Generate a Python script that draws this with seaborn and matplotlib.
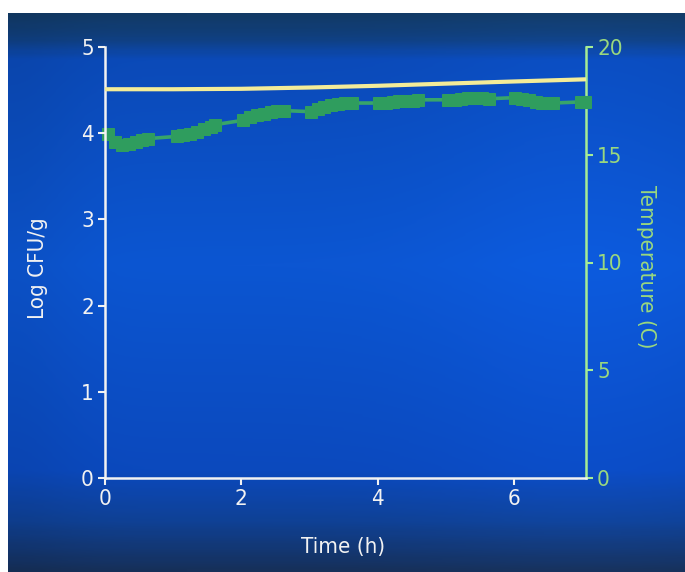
import numpy as np
import pandas as pd
import matplotlib
matplotlib.use("Agg")
import matplotlib.pyplot as plt
from matplotlib import font_manager
from matplotlib.colors import LinearSegmentedColormap
import seaborn as sns

# Log CFU/g over time
cfu_time = [0.0, 1.0, 2.0, 3.0, 4.0, 5.0, 6.0, 7.05]
cfu_log = [4.51, 4.51, 4.515, 4.53, 4.55, 4.575, 4.60, 4.625]

# Temperature logger readings (h, degrees C), recorded in bursts
temp_time = [
    0.05, 0.15, 0.25, 0.35, 0.45, 0.55, 0.63,
    1.05, 1.15, 1.25, 1.35, 1.45, 1.55, 1.62,
    2.03, 2.13, 2.23, 2.33, 2.43, 2.53, 2.62,
    3.02, 3.12, 3.22, 3.32, 3.42, 3.52, 3.63,
    4.02, 4.12, 4.22, 4.32, 4.42, 4.52, 4.60,
    5.03, 5.13, 5.23, 5.33, 5.43, 5.53, 5.63,
    6.02, 6.12, 6.22, 6.32, 6.42, 6.52, 6.58,
    6.98, 7.05,
]
temp_c = [
    15.95, 15.6, 15.45, 15.5, 15.6, 15.7, 15.75,
    15.85, 15.9, 15.95, 16.05, 16.2, 16.3, 16.4,
    16.6, 16.75, 16.85, 16.9, 17.0, 17.05, 17.05,
    17.0, 17.1, 17.2, 17.3, 17.35, 17.4, 17.4,
    17.4, 17.4, 17.45, 17.5, 17.5, 17.5, 17.55,
    17.55, 17.55, 17.6, 17.65, 17.65, 17.65, 17.6,
    17.65, 17.6, 17.55, 17.45, 17.4, 17.4, 17.4,
    17.45, 17.45,
]

x_ticks = [0, 2, 4, 6]
left_ticks = [0, 1, 2, 3, 4, 5]
right_ticks = [0, 5, 10, 15, 20]

sns.set_theme(style="ticks")

# prefer a narrow sans face for the labels
installed = {(f.name, f.stretch) for f in font_manager.fontManager.ttflist}
names = {n for n, _ in installed}
font_stretch = "normal"
if "Liberation Sans Narrow" in names:
    font_family = ["Liberation Sans Narrow", "DejaVu Sans"]
elif ("DejaVu Sans", "condensed") in installed or ("DejaVu Sans", "semi-condensed") in installed:
    font_family = ["DejaVu Sans"]
    font_stretch = "condensed"
elif "Roboto Condensed" in names:
    font_family = ["Roboto Condensed", "DejaVu Sans"]
else:
    font_family = ["Roboto", "DejaVu Sans"]
plt.rcParams["font.family"] = font_family
plt.rcParams["font.stretch"] = font_stretch

W, H = 685, 572
fig = plt.figure(figsize=(W / 100, H / 100), dpi=100, facecolor="white")

# blue studio backdrop: dark bands top and bottom, bright in the middle
bg = fig.add_axes([8 / W, 0, 1 - 8 / W, (H - 13) / H])
bg.set_axis_off()
stops = [
    (0.00, "#123a66"),
    (0.04, "#103f7e"),
    (0.08, "#0b4ab8"),
    (0.45, "#0c56d2"),
    (0.82, "#0b49bd"),
    (0.91, "#0f4196"),
    (1.00, "#16305a"),
]
cmap = LinearSegmentedColormap.from_list("backdrop", stops)
ny, nx = 300, 200
gy = np.linspace(0, 1, ny)[:, None]
gx = np.linspace(0, 1, nx)[None, :]
shade = np.repeat(gy, nx, axis=1)
img = cmap(shade)
# faint horizontal light falloff
glow = 1.0 + 0.06 * np.exp(-((gx - 0.85) ** 2) / 0.05) - 0.06 * np.exp(-(gx ** 2) / 0.01)
img[..., :3] = np.clip(img[..., :3] * glow[..., None], 0, 1)
bg.imshow(img, aspect="auto", extent=[0, 1, 1, 0], interpolation="bilinear")
bg.set_xlim(0, 1)
bg.set_ylim(1, 0)

ax = fig.add_axes([105 / W, 94 / H, 481 / W, 431 / H])
ax.set_facecolor("none")
ax2 = ax.twinx()
ax2.set_facecolor("none")

white = "#f2f2f2"
green_axis = "#a6ec94"
green_text = "#9ad87e"

cfu_df = pd.DataFrame({"Time (h)": cfu_time, "Log CFU/g": cfu_log})
temp_df = pd.DataFrame({"Time (h)": temp_time, "Temperature (C)": temp_c})

sns.lineplot(data=temp_df, x="Time (h)", y="Temperature (C)", ax=ax2,
             color="#38a56a", linewidth=2.6, marker="s", markersize=9,
             markerfacecolor="#2f9d5e", markeredgecolor="#2f9d5e",
             clip_on=False, zorder=3)
sns.lineplot(data=cfu_df, x="Time (h)", y="Log CFU/g", ax=ax,
             color="#f4ec98", linewidth=3, zorder=4)
ax.set_zorder(ax2.get_zorder() + 1)

ax.set_xlim(0, 7.06)
ax.set_ylim(0, 5)
ax2.set_ylim(0, 20)
ax.set_xticks(x_ticks)
ax.set_yticks(left_ticks)
ax2.set_yticks(right_ticks)

for spine in ["top", "right"]:
    ax.spines[spine].set_visible(False)
for spine in ["top", "left", "bottom"]:
    ax2.spines[spine].set_visible(False)
ax.spines["left"].set_color(white)
ax.spines["bottom"].set_color(white)
ax.spines["left"].set_linewidth(1.8)
ax.spines["bottom"].set_linewidth(1.8)
ax2.spines["right"].set_color(green_axis)
ax2.spines["right"].set_linewidth(1.8)

ax.tick_params(axis="both", colors=white, labelcolor=white, labelsize=16,
               length=5, width=1.5, direction="out", pad=3)
ax2.tick_params(axis="y", colors=green_axis, labelcolor=green_text, labelsize=16,
                length=5, width=1.5, direction="out", pad=3)

ax.set_xlabel("Time (h)", color=white, fontsize=16)
ax.set_ylabel("Log CFU/g", color=white, fontsize=16)
ax2.set_ylabel("Temperature (C)", color=green_text, fontsize=16, rotation=270)
ax.xaxis.set_label_coords(0.495, -0.137)
ax.yaxis.set_label_coords(-0.118, 0.487)
ax2.yaxis.set_label_coords(1.146, 0.49)

fig.savefig("out.png", dpi=100, facecolor="white")
